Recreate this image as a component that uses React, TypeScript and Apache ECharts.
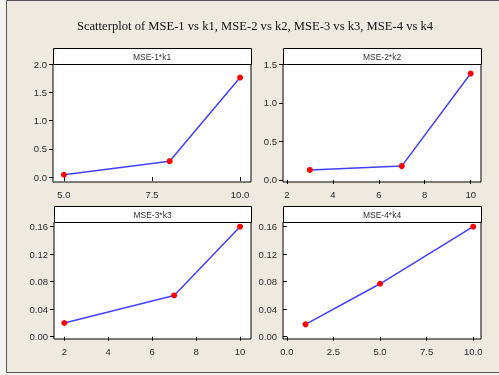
import React, { useEffect, useRef } from "react";
import * as echarts from "echarts";

const TITLE = "Scatterplot of MSE-1 vs k1, MSE-2 vs k2, MSE-3 vs k3, MSE-4 vs k4";
const panelTitles = ["MSE-1*k1", "MSE-2*k2", "MSE-3*k3", "MSE-4*k4"];

const k1 = [5, 8, 10];
const mse1 = [0.04, 0.28, 1.76];
const k2 = [3, 7, 10];
const mse2 = [0.13, 0.18, 1.38];
const k3 = [2, 7, 10];
const mse3 = [0.02, 0.06, 0.16];
const k4 = [1, 5, 10];
const mse4 = [0.018, 0.077, 0.16];

const xTicks1 = [5, 7.5, 10];
const xTicks2 = [2, 4, 6, 8, 10];
const xTicks3 = [2, 4, 6, 8, 10];
const xTicks4 = [0, 2.5, 5, 7.5, 10];
const yTicks1 = [0, 0.5, 1, 1.5, 2];
const yTicks2 = [0, 0.5, 1, 1.5];
const yTicks3 = [0, 0.04, 0.08, 0.12, 0.16];
const yTicks4 = [0, 0.04, 0.08, 0.12, 0.16];

export default function App() {
  const ref = useRef<HTMLDivElement>(null);
  useEffect(() => {
    if (!ref.current) return;
    const chart = echarts.init(ref.current, null, { renderer: "svg" });
    const labelFont = { fontFamily: "Liberation Sans", fontSize: 9.5, color: "#2a2a2a" };
    const grids = [
      { left: 53, top: 64, width: 198, height: 118 },
      { left: 283, top: 64, width: 198, height: 118 },
      { left: 54, top: 222, width: 197, height: 117 },
      { left: 283, top: 222, width: 198, height: 117 },
    ];
    const xr = [
      [4.69, 10.31],
      [1.83, 10.45],
      [1.53, 10.5],
      [-0.21, 10.42],
    ];
    const yr = [
      [-0.088, 2.0],
      [-0.026, 1.504],
      [-0.0033, 0.1668],
      [-0.0033, 0.1668],
    ];
    const xt = [xTicks1, xTicks2, xTicks3, xTicks4];
    const yt = [yTicks1, yTicks2, yTicks3, yTicks4];
    const xf = [
      (v: number) => v.toFixed(1),
      (v: number) => String(v),
      (v: number) => String(v),
      (v: number) => v.toFixed(1),
    ];
    const yf = [
      (v: number) => v.toFixed(1),
      (v: number) => v.toFixed(1),
      (v: number) => v.toFixed(2),
      (v: number) => v.toFixed(2),
    ];
    const xs = [k1, k2, k3, k4];
    const ys = [mse1, mse2, mse3, mse4];

    const frame = { stroke: "#555", lineWidth: 1 };
    const graphics: any[] = [
      { type: "rect", shape: { x: 0, y: 0, width: 499, height: 375 }, style: { fill: "#f5f4f0" }, z: -10 },
      { type: "rect", shape: { x: 6.5, y: 0.5, width: 493, height: 372 }, style: { fill: "#eeeae0" }, z: -9 },
      { type: "line", shape: { x1: 6.5, y1: 0.5, x2: 499, y2: 0.5 }, style: frame, z: -8 },
      { type: "line", shape: { x1: 6.5, y1: 0.5, x2: 6.5, y2: 372.5 }, style: frame, z: -8 },
      { type: "line", shape: { x1: 6.5, y1: 372.5, x2: 499, y2: 372.5 }, style: frame, z: -8 },
      {
        type: "text",
        x: 255,
        y: 26,
        style: { text: TITLE, fontFamily: "Liberation Serif", fontSize: 12.6, fill: "#111", align: "center", verticalAlign: "middle" },
      },
    ];
    grids.forEach((g, i) => {
      graphics.push({
        type: "rect",
        shape: { x: g.left + 0.5, y: g.top - 15.5, width: g.width, height: 16 },
        style: { fill: "#fff", stroke: "#000", lineWidth: 1 },
        z: 5,
      });
      graphics.push({
        type: "text",
        x: g.left + g.width / 2,
        y: g.top - 7.5,
        style: { text: panelTitles[i], fontFamily: "Liberation Sans", fontSize: 8.5, fill: "#333", align: "center", verticalAlign: "middle" },
        z: 6,
      });
    });

    chart.setOption({
      animation: false,
      grid: grids.map((g) => ({ ...g, show: true, backgroundColor: "#fff", borderColor: "#000", borderWidth: 1 })),
      xAxis: grids.map((_, i) => ({
        type: "value",
        gridIndex: i,
        min: xr[i][0],
        max: xr[i][1],
        axisLine: { show: false },
        splitLine: { show: false },
        axisTick: { show: true, length: 4, customValues: xt[i], lineStyle: { color: "#000" } },
        axisLabel: { ...labelFont, margin: 7, customValues: xt[i], formatter: xf[i] },
      })),
      yAxis: grids.map((_, i) => ({
        type: "value",
        gridIndex: i,
        min: yr[i][0],
        max: yr[i][1],
        axisLine: { show: false },
        splitLine: { show: false },
        axisTick: { show: true, length: 4, customValues: yt[i], lineStyle: { color: "#000" } },
        axisLabel: { ...labelFont, margin: 6, customValues: yt[i], formatter: yf[i] },
      })),
      series: grids.map((_, i) => ({
        type: "line",
        xAxisIndex: i,
        yAxisIndex: i,
        data: xs[i].map((x, j) => [x, ys[i][j]]),
        symbol: "circle",
        symbolSize: 6,
        lineStyle: { color: "#4040ff", width: 1.5 },
        itemStyle: { color: "#ff0000" },
        z: 3,
      })),
      graphic: graphics,
    });
    return () => chart.dispose();
  }, []);
  return <div ref={ref} style={{ position: "fixed", left: 0, top: 0, width: 499, height: 375 }} />;
}
